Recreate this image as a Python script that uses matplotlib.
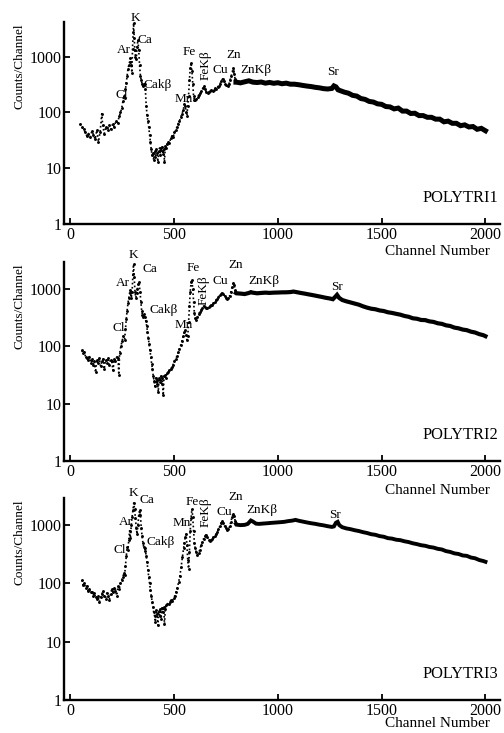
import matplotlib
matplotlib.use("Agg")
import matplotlib.pyplot as plt

plt.rcParams['font.family'] = ['Liberation Serif', 'DejaVu Serif']

# ---------------- DATA ----------------
# Panel 1 (POLYTRI1): low-energy / peak region
p1_low_ch = [48, 56, 64, 72, 80, 88, 96, 104, 112, 120, 128, 136, 144, 152, 156, 164, 172, 180, 188, 196,
             204, 212, 220, 228, 236, 242, 248, 254, 258, 262, 266, 270, 274, 278, 282, 286, 290, 294, 297, 300,
             303, 305, 308, 311, 314, 318, 322, 326, 330, 334, 338, 342, 346, 350, 354, 358, 362, 366, 370, 374,
             378, 382, 386, 390, 394, 398, 402, 406, 410, 414, 418, 422, 426, 430, 434, 438, 442, 446, 450, 454,
             458, 462, 466, 472, 478, 484, 490, 496, 502, 508, 514, 520, 526, 532, 538, 544, 550, 554, 558, 562,
             566, 570, 574, 578, 582, 586, 590, 594, 598, 602, 608, 614, 620, 626, 632, 638, 644, 650, 656, 662,
             668, 674, 680, 686, 692, 698, 704, 710, 716, 722, 728, 734, 740, 746, 752, 758, 764, 770, 776, 782,
             786, 790, 794, 798]
p1_low_val = [63, 55, 50, 44, 38, 42, 36, 46, 40, 33, 48, 30, 45, 95, 60, 42, 55, 48, 60, 50,
              62, 55, 70, 66, 85, 100, 120, 160, 200, 180, 260, 340, 460, 600, 700, 820, 940, 700, 520, 1400,
              2800, 4000, 2200, 1300, 1000, 900, 1500, 2000, 1300, 700, 460, 380, 330, 300, 320, 330, 260, 130, 90, 70,
              55, 40, 30, 22, 17, 19, 14, 20, 16, 22, 19, 13, 20, 23, 17, 21, 24, 18, 22, 13,
              25, 23, 27, 30, 28, 35, 38, 36, 44, 48, 55, 63, 70, 82, 95, 110, 140, 130, 100, 88,
              130, 200, 380, 620, 780, 560, 330, 200, 170, 165, 175, 190, 210, 220, 240, 270, 300, 260, 230, 220,
              235, 240, 250, 245, 255, 270, 268, 290, 300, 330, 370, 400, 370, 330, 310, 300, 320, 380, 460, 560,
              620, 500, 400, 350]
# Panel 1 continuum
p1_cont_ch = [800, 820, 840, 860, 880, 900, 920, 940, 960, 980, 1000, 1020, 1040, 1060, 1080, 1100, 1120, 1140,
              1160, 1180, 1200, 1220, 1240, 1260, 1270, 1280, 1290, 1300, 1320, 1340, 1360, 1380, 1400, 1420,
              1440, 1460, 1480, 1500, 1520, 1540, 1560, 1580, 1600, 1620, 1640, 1660, 1680, 1700, 1720, 1740,
              1760, 1780, 1800, 1820, 1840, 1860, 1880, 1900, 1920, 1940, 1960, 1980, 2000]
p1_cont_val = [350, 340, 355, 370, 350, 345, 352, 336, 346, 334, 342, 328, 336, 322, 322, 315, 306, 298,
               292, 283, 277, 268, 264, 270, 300, 288, 255, 247, 232, 222, 203, 197, 178, 172,
               158, 154, 143, 140, 128, 126, 116, 120, 106, 106, 96, 97, 88, 88, 82, 82,
               76, 76, 68, 70, 64, 64, 58, 60, 55, 56, 50, 52, 47]

# Panel 2 (POLYTRI2)
p2_low_ch = [56, 62, 68, 74, 80, 86, 92, 98, 104, 110, 116, 122, 128, 134, 140, 146, 152, 158, 164, 170,
             176, 182, 188, 194, 200, 206, 212, 218, 224, 230, 234, 238, 244, 250, 256, 262, 266, 270, 274, 278,
             282, 286, 290, 294, 298, 302, 305, 308, 312, 316, 320, 324, 328, 332, 336, 340, 344, 348, 352, 356,
             360, 364, 368, 372, 376, 380, 384, 388, 392, 396, 400, 404, 408, 412, 416, 420, 424, 428, 432, 436,
             440, 444, 448, 452, 456, 460, 466, 472, 478, 484, 490, 496, 502, 508, 514, 520, 526, 532, 538, 544,
             550, 554, 558, 562, 566, 570, 574, 578, 582, 586, 590, 594, 598, 602, 606, 612, 618, 624, 630, 636,
             642, 648, 654, 660, 666, 672, 678, 684, 690, 696, 702, 708, 714, 720, 726, 732, 738, 744, 750, 756,
             762, 768, 774, 780, 786, 790, 794, 798]
p2_low_val = [85, 75, 80, 65, 62, 58, 66, 52, 60, 48, 55, 35, 58, 52, 62, 45, 55, 60, 40, 58,
              52, 62, 48, 58, 55, 38, 60, 56, 65, 62, 32, 75, 100, 125, 150, 130, 200, 300, 420, 560,
              700, 850, 950, 700, 900, 1800, 2700, 1600, 900, 700, 850, 1000, 1200, 1300, 900, 600, 420, 350, 330, 360,
              320, 280, 230, 180, 140, 110, 85, 65, 50, 40, 30, 25, 20, 28, 22, 26, 16, 28, 24, 30,
              22, 28, 14, 30, 32, 28, 34, 36, 38, 40, 44, 48, 55, 60, 68, 78, 90, 105, 125, 150,
              175, 190, 160, 130, 150, 260, 500, 900, 1300, 1450, 1000, 600, 380, 310, 290, 320, 360, 400, 430, 470,
              500, 480, 460, 470, 480, 500, 520, 530, 560, 600, 640, 680, 720, 780, 820, 860, 820, 750, 700, 680,
              700, 760, 900, 1100, 1250, 1150, 950, 850]
p2_cont_ch = [800, 820, 840, 860, 870, 880, 900, 920, 940, 960, 980, 1000, 1020, 1040, 1060, 1075, 1090, 1110,
              1130, 1150, 1170, 1190, 1210, 1230, 1250, 1265, 1275, 1285, 1295, 1310, 1330, 1350, 1370, 1390,
              1410, 1430, 1450, 1470, 1490, 1510, 1530, 1550, 1570, 1590, 1610, 1630, 1650, 1670, 1690, 1710,
              1730, 1750, 1770, 1790, 1810, 1830, 1850, 1870, 1890, 1910, 1930, 1950, 1970, 1990, 2000]
p2_cont_val = [840, 830, 815, 850, 880, 860, 840, 852, 862, 853, 862, 866, 872, 874, 882, 900, 880, 852,
               828, 802, 778, 752, 728, 702, 682, 662, 720, 790, 700, 642, 608, 582, 556, 532,
               498, 472, 452, 442, 422, 412, 392, 382, 368, 356, 338, 327, 308, 302, 288, 286,
               272, 266, 252, 246, 232, 226, 212, 206, 196, 191, 180, 174, 163, 156, 150]

# Panel 3 (POLYTRI3)
p3_low_ch = [56, 62, 68, 74, 80, 86, 92, 98, 104, 110, 116, 122, 128, 134, 140, 146, 152, 158, 164, 170,
             176, 182, 188, 194, 200, 206, 212, 218, 224, 230, 236, 242, 248, 254, 258, 262, 266, 270, 274, 278,
             282, 286, 290, 294, 298, 302, 306, 310, 314, 318, 322, 326, 330, 334, 338, 342, 346, 350, 354, 358,
             362, 366, 370, 374, 378, 382, 386, 390, 394, 398, 402, 406, 410, 414, 418, 422, 426, 430, 434, 438,
             442, 446, 450, 454, 458, 462, 468, 474, 480, 486, 492, 498, 504, 510, 516, 522, 528, 534, 540, 546,
             550, 554, 558, 562, 566, 570, 574, 578, 582, 586, 590, 594, 598, 602, 606, 612, 618, 624, 630, 636,
             642, 648, 654, 660, 666, 672, 678, 684, 690, 696, 702, 708, 714, 720, 726, 732, 738, 744, 750, 756,
             762, 768, 774, 780, 786, 790, 794, 798]
p3_low_val = [115, 95, 100, 85, 90, 75, 80, 70, 72, 62, 68, 58, 55, 60, 48, 58, 65, 75, 62, 55,
              68, 60, 52, 65, 80, 70, 85, 75, 62, 90, 80, 100, 115, 130, 150, 140, 200, 290, 420, 380,
              560, 800, 600, 1000, 1400, 1800, 2400, 1900, 1300, 900, 700, 1000, 1500, 1800, 1500, 900, 650, 500, 420, 400,
              360, 300, 230, 170, 130, 100, 78, 62, 48, 40, 32, 28, 22, 35, 30, 19, 34, 28, 36, 25,
              38, 32, 40, 20, 36, 42, 45, 44, 48, 52, 50, 56, 62, 72, 85, 105, 135, 190, 280, 400,
              500, 620, 700, 450, 250, 180, 350, 800, 1300, 1900, 1400, 800, 500, 400, 350, 310, 330, 380, 450, 520,
              580, 650, 680, 620, 560, 540, 560, 580, 620, 660, 700, 760, 850, 950, 1080, 1180, 1100, 950, 880, 820,
              850, 950, 1150, 1400, 1580, 1450, 1200, 1050]
p3_cont_ch = [800, 820, 840, 855, 870, 880, 895, 910, 930, 950, 970, 990, 1010, 1030, 1050, 1070, 1085, 1100,
              1120, 1140, 1160, 1180, 1200, 1220, 1240, 1260, 1270, 1280, 1288, 1296, 1310, 1330, 1350, 1370,
              1390, 1410, 1430, 1450, 1470, 1490, 1510, 1530, 1550, 1570, 1590, 1610, 1630, 1650, 1670, 1690,
              1710, 1730, 1750, 1770, 1790, 1810, 1830, 1850, 1870, 1890, 1910, 1930, 1950, 1970, 1990, 2000]
p3_cont_val = [1020, 1000, 1010, 1050, 1200, 1150, 1060, 1050, 1065, 1078, 1094, 1108, 1122, 1138, 1172, 1196, 1230, 1190,
               1150, 1112, 1078, 1052, 1018, 992, 958, 932, 950, 1100, 1140, 1000, 922, 878, 852, 818,
               792, 758, 732, 698, 682, 648, 632, 598, 587, 562, 552, 528, 512, 488, 472, 452,
               442, 422, 412, 392, 382, 358, 347, 328, 320, 302, 297, 278, 270, 252, 242, 235]

# Peak labels: (text, channel, counts, rotation)
p1_labels = [("K", 313, 4900, 0), ("Ca", 362, 1990, 0), ("Ar", 256, 1310, 0), ("Cl", 249, 203, 0),
             ("Cakβ", 420, 306, 0), ("Mn", 546, 176, 0), ("Fe", 575, 1220, 0), ("FeKβ", 650, 705, 90),
             ("Cu", 722, 570, 0), ("Zn", 787, 1060, 0), ("ZnKβ", 893, 570, 0), ("Sr", 1268, 532, 0)]
p2_labels = [("K", 305, 3960, 0), ("Ca", 385, 2220, 0), ("Ar", 255, 1260, 0), ("Cl", 233, 207, 0),
             ("Cakβ", 449, 433, 0), ("Mn", 546, 236, 0), ("Fe", 591, 2300, 0), ("FeKβ", 642, 960, 90),
             ("Cu", 724, 1400, 0), ("Zn", 795, 2640, 0), ("ZnKβ", 933, 1350, 0), ("Sr", 1285, 1100, 0)]
p3_labels = [("K", 302, 3540, 0), ("Ca", 369, 2700, 0), ("Ar", 268, 1140, 0), ("Cl", 238, 373, 0),
             ("Cakβ", 436, 520, 0), ("Mn", 536, 1070, 0), ("Fe", 586, 2510, 0), ("FeKβ", 650, 1700, 90),
             ("Cu", 741, 1700, 0), ("Zn", 795, 3080, 0), ("ZnKβ", 925, 1820, 0), ("Sr", 1277, 1490, 0)]

sample_names = ["POLYTRI1", "POLYTRI2", "POLYTRI3"]
x_ticks = [0, 500, 1000, 1500, 2000]
x_ticklabels = ["0", "500", "1000", "1500", "2000"]
y_ticks = [1, 10, 100, 1000]
y_ticklabels = ["1", "10", "100", "1000"]

# ---------------- FIGURE ----------------
W, H = 504, 733
fig = plt.figure(figsize=(W / 100, H / 100), dpi=100)

panels = [
    dict(rect=(64, 22, 224), ytop=4200, low=(p1_low_ch, p1_low_val), cont=(p1_cont_ch, p1_cont_val),
         labels=p1_labels, lw=3.6, xlab_y=-0.134),
    dict(rect=(64, 262, 461), ytop=2950, low=(p2_low_ch, p2_low_val), cont=(p2_cont_ch, p2_cont_val),
         labels=p2_labels, lw=3.0, xlab_y=-0.15),
    dict(rect=(64, 498, 700), ytop=2920, low=(p3_low_ch, p3_low_val), cont=(p3_cont_ch, p3_cont_val),
         labels=p3_labels, lw=2.8, xlab_y=-0.118),
]

for i, p in enumerate(panels):
    left, top, bottom = p["rect"]
    ax = fig.add_axes([left / W, 1 - bottom / H, (500 - left) / W, (bottom - top) / H])
    ax.set_yscale('log')
    ax.set_xlim(-30, 2070)
    ax.set_ylim(1, p["ytop"])

    lc, lv = p["low"]
    ax.plot(lc, lv, color='black', linestyle=(0, (1, 1.5)), linewidth=1.2,
            marker='o', markersize=2.1, markeredgewidth=0)
    cc, cv = p["cont"]
    ax.plot([lc[-1]] + cc, [lv[-1]] + cv, color='black', linewidth=p["lw"], solid_joinstyle='miter')

    for txt, ch, val, rot in p["labels"]:
        ax.text(ch, val, txt, ha='center', va='center', fontsize=9.5, rotation=rot, clip_on=False)

    for s in ['top', 'right']:
        ax.spines[s].set_visible(False)
    for s in ['left', 'bottom']:
        ax.spines[s].set_linewidth(1.7)

    ax.set_xticks(x_ticks)
    ax.set_xticklabels(x_ticklabels)
    ax.set_yticks(y_ticks)
    ax.set_yticklabels(y_ticklabels)
    ax.minorticks_off()
    ax.tick_params(axis='both', direction='in', length=4, width=1.3, labelsize=11.5, pad=2)

    ax.text(-0.103, 0.78, "Counts/Channel", rotation=90, ha='center', va='center',
            fontsize=9.5, transform=ax.transAxes)
    ax.text(0.977, p["xlab_y"], "Channel Number", ha='right', va='center', fontsize=11,
            transform=ax.transAxes)
    ax.text(0.995, 0.13, sample_names[i], ha='right', va='center', fontsize=11.8,
            transform=ax.transAxes)

fig.savefig("out.png", dpi=100)
